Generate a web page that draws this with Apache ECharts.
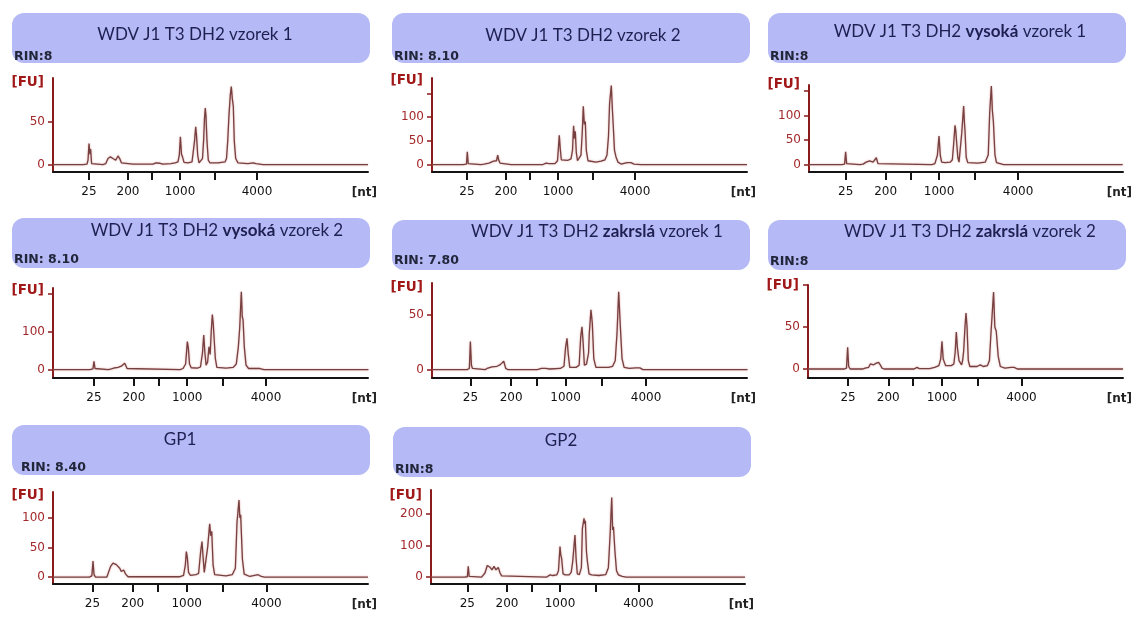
<!DOCTYPE html>
<html><head><meta charset="utf-8">
<script src="https://cdn.jsdelivr.net/npm/echarts@6/dist/echarts.min.js"></script>
<style>html,body{margin:0;padding:0;background:#fff}#c{width:1134px;height:617px}</style>
</head><body><div id="c"></div>
<script>
// ---------- DATA ----------
// titles: [plain start, bold part, plain end]
const titleParts = [
  ['WDV J1 T3 DH2 vzorek 1', '', ''],
  ['WDV J1 T3 DH2 vzorek 2', '', ''],
  ['WDV J1 T3 DH2 ', 'vysoká', ' vzorek 1'],
  ['WDV J1 T3 DH2 ', 'vysoká', ' vzorek 2'],
  ['WDV J1 T3 DH2 ', 'zakrslá', ' vzorek 1'],
  ['WDV J1 T3 DH2 ', 'zakrslá', ' vzorek 2'],
  ['GP1', '', ''],
  ['GP2', '', '']
];
const rinLabels = ['RIN:8', 'RIN: 8.10', 'RIN:8', 'RIN: 8.10', 'RIN: 7.80', 'RIN:8', 'RIN: 8.40', 'RIN:8'];

// ladder (x axis) – migration position of the ladder fragments and their sizes
const ladderPos = [36, 75, 99, 127, 162, 204];
const ladderNt  = [25, 200, 500, 1000, 2000, 4000];
const labeledNt = [25, 200, 1000, 4000];

// y axis ticks and labels per panel (FU)
const yTicks  = [[0,50],[0,50,100,150],[0,50,100,150],[0,100,200],[0,50],[0,50,100],[0,50,100],[0,100,200]];
const yLabels = [[0,50],[0,50,100],[0,50,100],[0,100],[0,50],[0,50],[0,50,100],[0,100,200]];
const yRange  = [[-8.7,101],[-15.8,183],[-15,162],[-22,215],[-7.7,79],[-10.7,100],[-11.7,143.6],[-22,277]];
const xRange  = [[0,315],[1,316],[0.3,306.3],[-4,303.6],[-0.7,300.5],[-2.8,302.4],[-2,302],[0.3,308.7]];

// electropherogram traces: [position, FU]
const trace1 = [[0,0],[30,0],[34,0.5],[35,5],[36,24.5],[37,12],[37.6,18],[38.6,1],[40,0],[50,0],[52.7,1],[55,7],[57.4,9],[60,7],[62.7,5],[65,10],[66.7,7],[68.4,2],[70,0.5],[80,0.5],[100,0.5],[103,2],[107,1.5],[110,0.5],[118,1],[122,2],[125,3],[126.3,11],[127.4,32.5],[128.5,12],[129.5,9],[131,2.5],[135,2],[139,3],[140,5],[141.5,27],[142.7,44],[143.5,34],[144.7,11],[146,2],[148,3],[149.5,7],[150.7,30],[151.5,54],[152.3,66],[153,56],[154,27],[155.3,5],[157,2],[165,2],[172,3],[173.5,7],[174.7,27],[176,58],[177.3,81],[178.3,91],[179.3,77],[180.3,68],[181.3,27],[182.7,7],[185,2],[195,1],[200,2],[203,1],[210,0],[315,0]];
const trace2 = [[1,0],[32,0],[35.5,1],[36.3,27],[37.2,2],[38.5,0],[50,0],[53,1],[55,4],[58,3],[60,6],[62.5,7],[64,4],[65.5,8],[66.7,20],[67.8,9],[69,3],[71,0.5],[80,0],[112,0],[115,3],[118,2],[124,2],[126.5,8],[127.6,40],[128.3,62],[129.2,35],[130.3,10],[132,7],[137,9],[140,12],[141.5,30],[142.6,82],[143.4,55],[144.3,70],[145.3,25],[146.5,8],[148,10],[150,20],[151.3,70],[152.3,123],[153.3,85],[154.3,91],[155.3,30],[157,8],[165,5],[170,7],[174,10],[176,20],[177.5,60],[178.6,130],[180.3,167],[181.3,120],[182.3,80],[183.5,30],[185,16],[187,5],[190,1],[196,4],[200,4],[203,1],[210,0],[316,0]];
const trace3 = [[0.3,0],[32,0],[35,1],[36,26],[37,2],[38.5,0],[50,0],[53,1],[56,5],[59.4,7.5],[62.7,5],[64.5,7],[65.9,14],[67.5,2],[69,0],[120,0],[123,2],[125.4,19],[127,58],[128.2,20],[129.5,5],[133,4],[138,5],[140,10],[141.3,43],[142.6,80],[143.3,70],[144.2,70],[145.3,15],[146.5,5],[148,8],[149.1,63],[151,119],[151.8,85],[152.3,70],[153.5,15],[155,4],[165,3],[172,5],[175,20],[176.4,107],[178,160],[179,110],[180,87],[181.5,20],[183,4],[190,0],[306,0]];
const trace4 = [[-4,0],[32,0],[35,2],[36,22],[37,3],[38.5,0],[50,0],[53,2],[54.6,7],[57,5],[59.5,6],[61,4],[62.7,9],[64.5,8],[66,17],[67.2,10],[68.3,3],[70,0],[120,0],[123,3],[125.5,15],[126.5,50],[127.2,74],[128.2,56],[129.3,15],[131,5],[137,4],[140,7],[142,45],[143.2,91],[144.3,45],[145.5,12],[147,20],[148.3,60],[149.5,40],[150.5,100],[151.6,145],[152.5,120],[153.2,118],[154.5,30],[156,6],[165,4],[172,6],[175,15],[177,60],[178.3,109],[179.9,205],[180.8,140],[181.6,131],[182.8,60],[184.5,12],[187,3],[194,3],[198,3],[202,0],[304,0]];
const trace5 = [[-0.7,0],[33,0],[35,1],[36,25.5],[37,4],[38,1],[39,0],[50,0],[52,1],[56.7,2.5],[61.5,3],[64.6,4.5],[66.5,4],[67.9,7.7],[69.8,1],[72,0],[100,0],[104,1],[108,1],[112,0.5],[122,1],[125.5,3],[127,20],[128.4,28.5],[129.5,15],[131,2],[137,2],[140,4],[141.5,30],[142.7,39],[143.8,25],[145,4],[147,5],[149,15],[149.7,33],[151.3,54.6],[152.6,42],[154,10],[156,2],[168,2],[172,3],[174.5,8],[176.2,33],[177.8,71],[179.4,39],[181,10],[183,2],[188,1],[194,1.5],[198,1.5],[201,0],[301,0]];
const trace6 = [[-2.8,0],[32,0],[34.5,1],[35.6,25.8],[36.6,3],[38,0],[50,0],[52.5,1],[54.4,3],[56,2],[57.6,6],[59.2,4],[60.8,5],[62.2,4],[63.4,7],[64.5,5],[65.6,8],[67.2,5],[68.9,1],[71,0],[100,0],[102.8,2],[105,0.5],[115,0.5],[120,2],[124,4],[125.8,12],[127,33],[128.2,12],[129.3,11],[130.5,4],[136,4],[138.5,6],[139.8,20],[140.9,44],[142,25],[143.5,10],[144.8,9],[146,5],[147,10],[148,21],[149.3,50],[150.3,66.7],[151.3,50],[152.5,10],[154,3],[161,3],[164.1,5],[167,3],[171,4],[173,10],[174.4,41],[177,91.7],[178.2,50],[179.6,45],[181.5,15],[183.5,3],[188,1],[194,2],[197,2],[200,0],[302.4,0]];
const trace7 = [[-2,0],[33,0],[35.5,2],[36.6,27],[37.6,4],[39,0],[50,0],[51.1,1],[53.6,18],[55.9,23.5],[59.1,21],[62.4,15],[63.9,9.5],[66.2,12],[68.1,5],[70.4,0.5],[120,0.5],[124,3],[125.7,20],[126.7,43],[127.7,32],[128.8,8],[130.5,3],[136,4],[138.5,6],[140.5,43],[141.8,60],[142.8,35],[144,8],[145.5,6],[147.3,51],[149.2,90],[150.2,70],[151.2,77],[152.5,20],[154,4],[165,2],[171,4],[174,15],[175.6,93],[177.5,130],[178.3,100],[179.1,105],[180.8,30],[182.5,5],[188,1],[196,4],[199,1],[202,0],[302,0]];
const trace8 = [[0.3,0],[33,0],[36,1],[36.9,34],[37.8,2],[39,0],[50,0],[51.7,4],[53.3,13],[55.6,37],[58.3,31],[60.2,23],[62.2,34],[64.1,23],[66.4,31],[68.1,13],[69.7,4],[71.5,0],[114,0],[117.2,7],[120,5],[123.8,7],[125.5,20],[127,97],[127.8,70],[128.6,60],[130,10],[132,7],[136,7],[138,15],[139.5,50],[141.7,134],[142.8,60],[144,10],[146,8],[148,30],[149,155],[150.6,187],[151.2,170],[151.9,179],[153,80],[153.9,50],[155.5,10],[158,7],[165,5],[172,8],[174.5,30],[176.2,134],[177.8,253],[178.7,150],[179.5,160],[181,80],[182.5,20],[184.4,7],[188,2],[192,0],[308.7,0]];
const traces = [trace1, trace2, trace3, trace4, trace5, trace6, trace7, trace8];

// ---------- LAYOUT ----------
const layout = [
  {box:[12,13,358,50],  tx:195, ty:35,  rx:14, ry:57,  g:[53,78,315,94],   fuY:82},
  {box:[392,13,358,50], tx:583, ty:36,  rx:394, ry:57, g:[432,78,315,94],  fuY:80},
  {box:[768,13,358,50], tx:960, ty:32,  rx:770, ry:57, g:[809,85,314,87],  fuY:84},
  {box:[12,218,358,50], tx:217, ty:231, rx:14, ry:260, g:[53,288,315,90],  fuY:290},
  {box:[392,220,358,50],tx:597, ty:232, rx:394, ry:261,g:[432,283,315,95], fuY:287},
  {box:[768,220,358,50],tx:970, ty:232, rx:770, ry:262,g:[808,285,315,93], fuY:285},
  {box:[12,425,358,50], tx:180, ty:440, rx:21, ry:468, g:[53,492,315,92],  fuY:495},
  {box:[393,427,358,50],tx:561, ty:441, rx:395, ry:470,g:[431,490,314,94], fuY:495}
];

const BOX = '#b5b9f6', TXT = '#1e2052', RED = '#8b1a1a', LBLRED = '#a3282a', TRACE = '#774040';
const TFONT = 'Lato', AFONT = 'DejaVu Sans';

const ntAt = {};
ladderPos.forEach((p, i) => { ntAt[p] = ladderNt[i]; });
const labeledPos = ladderPos.filter((p, i) => labeledNt.includes(ladderNt[i]));

const grids = [], xAxes = [], yAxes = [], series = [], graphics = [];
layout.forEach((L, i) => {
  grids.push({left: L.g[0], top: L.g[1], width: L.g[2], height: L.g[3]});
  xAxes.push({
    type: 'value', gridIndex: i, min: xRange[i][0], max: xRange[i][1],
    splitLine: {show: false},
    axisLine: {show: true, onZero: false, lineStyle: {color: '#141414', width: 2}},
    axisTick: {show: true, customValues: ladderPos, length: 8, lineStyle: {color: '#141414', width: 2}},
    axisLabel: {show: true, customValues: labeledPos, margin: 14, formatter: v => String(ntAt[v]),
                color: '#111', fontFamily: AFONT, fontSize: 12}
  });
  yAxes.push({
    type: 'value', gridIndex: i, min: yRange[i][0], max: yRange[i][1],
    splitLine: {show: false},
    axisLine: {show: true, onZero: false, lineStyle: {color: RED, width: 2}},
    axisTick: {show: true, customValues: yTicks[i], length: 5, lineStyle: {color: RED, width: 1.5}},
    axisLabel: {show: true, customValues: yLabels[i], margin: 8, color: LBLRED,
                fontFamily: AFONT, fontSize: 12}
  });
  series.push({
    type: 'line', xAxisIndex: i, yAxisIndex: i, data: traces[i],
    showSymbol: false, symbol: 'none', silent: true, clip: true,
    lineStyle: {color: TRACE, width: 1.3, shadowColor: 'rgba(214,140,140,0.8)', shadowBlur: 2}
  });
  const [bx, by, bw, bh] = L.box;
  graphics.push({type: 'rect', shape: {x: bx, y: by, width: bw, height: bh, r: 12}, style: {fill: BOX}, z: 0});
  const tp = titleParts[i];
  const txt = '{n|' + tp[0] + '}' + (tp[1] ? '{b|' + tp[1] + '}' : '') + (tp[2] ? '{n|' + tp[2] + '}' : '');
  graphics.push({type: 'text', x: L.tx, y: L.ty, z: 2, style: {
    text: txt, align: 'center', verticalAlign: 'middle',
    rich: {n: {fontFamily: TFONT, fontSize: 17, fill: TXT, color: TXT},
           b: {fontFamily: TFONT, fontSize: 17, fontWeight: 'bold', fill: TXT, color: TXT}}
  }});
  graphics.push({type: 'text', x: L.rx, y: L.ry, z: 2, style: {
    text: rinLabels[i], align: 'left', verticalAlign: 'middle',
    font: 'bold 12.5px "DejaVu Sans"', fill: '#22263a'
  }});
  graphics.push({type: 'text', x: L.g[0] - 9, y: L.fuY, z: 2, style: {
    text: '[FU]', align: 'right', verticalAlign: 'middle',
    font: 'bold 13.5px "DejaVu Sans"', fill: '#a01818'
  }});
  graphics.push({type: 'text', x: L.g[0] + L.g[2] + 9, y: L.g[1] + L.g[3] + 21, z: 2, style: {
    text: '[nt]', align: 'right', verticalAlign: 'middle',
    font: 'bold 12px "DejaVu Sans"', fill: '#222'
  }});
});

const chart = echarts.init(document.getElementById('c'), null, {renderer: 'canvas'});
chart.setOption({
  animation: false,
  backgroundColor: '#ffffff',
  grid: grids, xAxis: xAxes, yAxis: yAxes, series: series,
  graphic: graphics
});
</script></body></html>
